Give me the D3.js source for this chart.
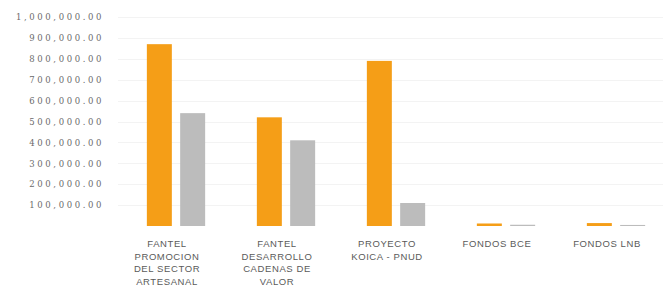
<!DOCTYPE html>
<html>
<head>
<meta charset="utf-8">
<script src="https://cdn.jsdelivr.net/npm/d3@7"></script>
<style>
  html, body { margin: 0; padding: 0; background: #fff; }
  svg { display: block; }
</style>
</head>
<body>
<div id="chart"></div>
<script>
"use strict";

// data
const categories = [
    ["FANTEL", "PROMOCION", "DEL SECTOR", "ARTESANAL"],
    ["FANTEL", "DESARROLLO", "CADENAS DE", "VALOR"],
    ["PROYECTO", "KOICA - PNUD"],
    ["FONDOS BCE"],
    ["FONDOS LNB"]
];
const seriesOrange = [870000, 520000, 790000, 12000, 14000];
const seriesGray = [540000, 410000, 110000, 6000, 5000];
const yTicks = [100000, 200000, 300000, 400000, 500000, 600000, 700000, 800000, 900000, 1000000];

const width = 663, height = 296;
const colors = ["#f59e17", "#bcbcbc"];

const svg = d3.select("#chart").append("svg")
    .attr("width", width)
    .attr("height", height);

const x = d3.scaleBand()
    .domain(d3.range(categories.length))
    .range([121, 671])
    .paddingInner(0.47)
    .paddingOuter(0.235);

const xSub = d3.scaleBand()
    .domain([0, 1])
    .range([0, x.bandwidth()])
    .paddingInner(0.25);

const y = d3.scaleLinear()
    .domain([0, 1000000])
    .range([226, 17]);

// faint gridlines
svg.append("g")
    .selectAll("line")
    .data(yTicks)
    .join("line")
    .attr("x1", 118)
    .attr("x2", width)
    .attr("y1", d => Math.round(y(d)) + 0.5)
    .attr("y2", d => Math.round(y(d)) + 0.5)
    .attr("stroke", "#f3f3f3");

// y axis labels only, no line
const yAxis = svg.append("g")
    .attr("transform", "translate(104,0)")
    .call(d3.axisLeft(y).tickValues(yTicks).tickSize(0).tickPadding(0)
        .tickFormat(d3.format(",.2f")));
yAxis.select(".domain").remove();
yAxis.selectAll("text")
    .style("font-family", "'DejaVu Serif', serif")
    .style("font-size", "8.5px")
    .style("letter-spacing", "2.6px")
    .attr("fill", "#6a6a6a");

const groups = svg.append("g")
    .selectAll("g")
    .data(categories.map((c, i) => [seriesOrange[i], seriesGray[i]]))
    .join("g")
    .attr("transform", (d, i) => `translate(${x(i)},0)`);

groups.selectAll("rect")
    .data(d => d)
    .join("rect")
    .attr("x", (d, j) => xSub(j))
    .attr("width", xSub.bandwidth())
    .attr("y", d => y(d))
    .attr("height", d => y(0) - y(d))
    .attr("fill", (d, j) => colors[j]);

// category labels, sitting a little left of their bars as in the scan
const labels = svg.append("g")
    .selectAll("text")
    .data(categories)
    .join("text")
    .attr("text-anchor", "middle")
    .style("font-family", "'Liberation Sans', sans-serif")
    .style("font-size", "9.5px")
    .style("letter-spacing", "0.6px")
    .attr("fill", "#5a5a5a")
    .attr("transform", (d, i) => `translate(${x(i) + x.bandwidth() / 2 - 9},247)`);

labels.selectAll("tspan")
    .data(d => d)
    .join("tspan")
    .attr("x", 0)
    .attr("dy", (d, k) => k === 0 ? 0 : 12.5)
    .text(d => d);
</script>
</body>
</html>
